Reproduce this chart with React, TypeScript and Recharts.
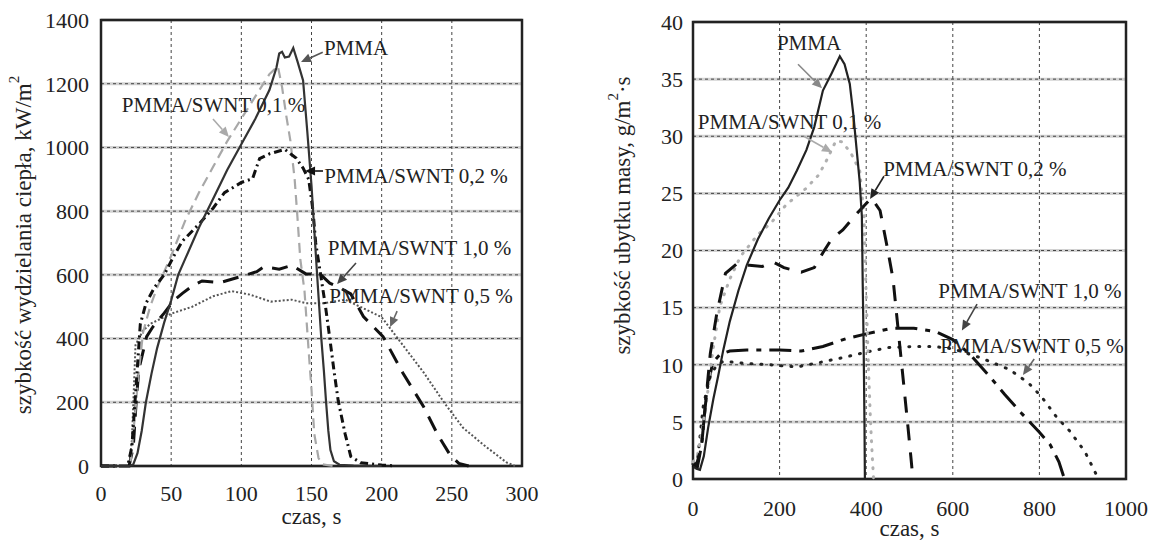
import React from "react";
import { LineChart, Line, XAxis, YAxis, CartesianGrid, ReferenceArea, ReferenceLine, ReferenceDot } from "recharts";

// heat release rate, kW/m2 vs time, s  -> [t, v]
const hrrPmma = [[0,0],[20,0],[23,5],[26,40],[29,110],[32,200],[36,290],[40,370],[45,450],[50,520],[55,600],[60,650],[70,750],[80,840],[90,930],[100,1010],[110,1090],[120,1180],[125,1250],[127,1295],[129,1300],[131,1282],[134,1285],[137,1312],[140,1270],[144,1210],[147,1050],[150,880],[152,740],[154,600],[155.5,500],[157,400],[158.8,300],[160.4,200],[162,110],[163.5,50],[166,15],[170,4],[180,1],[200,0]];
const hrrSwnt01 = [[0,0],[18,0],[21,10],[24,150],[27,300],[30,420],[35,500],[40,560],[50,660],[60,770],[70,860],[80,940],[90,1020],[100,1090],[110,1160],[120,1230],[126,1255],[129,1190],[132,1100],[135,1020],[138,900],[140,780],[142,650],[145,550],[148,360],[150,240],[152,100],[155,25],[158,5],[165,0]];
const hrrSwnt02 = [[0,0],[19,0],[22,60],[25,250],[28,445],[32,510],[38,560],[45,600],[52,660],[58,706],[70,760],[80,810],[88,858],[100,890],[108,902],[113,965],[120,980],[131,994],[135,980],[139,967],[144,935],[148,900],[151,804],[153,700],[156.6,598],[160,500],[163,402],[166,300],[169,206],[174,100],[178,30],[185,10],[200,3],[210,0]];
const hrrSwnt10 = [[0,0],[20,0],[23,60],[25,197],[27,304],[32.5,406],[37,437],[45,480],[52,520],[58,542],[65,565],[72,581],[85,576],[99,594],[111,610],[116,625],[127,618],[136,630],[146,603],[156,603],[163,574],[170,560],[178,540],[187,469],[201,406],[215,293],[230,185],[240,98],[249,33],[255,8],[262,0]];
const hrrSwnt05 = [[0,0],[20,0],[22,80],[24.6,380],[30,425],[35,446],[50,478],[65,500],[80,533],[93,549],[106,538],[121,516],[136,522],[146,511],[159,511],[174,522],[187,495],[200,467],[215,380],[230,293],[245,196],[258,120],[273,65],[289,11],[295,0]];

// mass loss rate, g/m2 s vs time, s -> [t, v]
const mlrPmma = [[0,1.1],[8,0.9],[16,0.8],[25,2],[35,4.5],[47,7],[58,9],[70,11.3],[85,13.8],[105,16.5],[124,18.7],[150,21],[175,22.8],[200,24.4],[220,25.5],[240,27],[262,28.8],[280,30.8],[300,34],[320,35.5],[339,37],[350,36.3],[362,34.6],[370,32],[378,28.8],[385,26],[390,23],[392,17],[394,12],[396,5],[397,0]];
const mlrSwnt01 = [[0,1.5],[10,2],[20,4],[32,7],[46,11.3],[62,15.1],[85,17.5],[110,19.5],[150,21.4],[180,22.4],[215,24],[260,25.4],[290,26.6],[310,28],[330,29.6],[345,29.5],[365,28.5],[385,27],[395,23],[400,16],[405,10],[410,5],[414,2],[417,0]];
const mlrSwnt02 = [[0,1],[10,1.5],[20,3],[30,7],[40,11],[55,14.5],[75,18],[100,18.8],[130,18.7],[160,18.6],[185,19],[210,18.5],[250,18.1],[280,18.5],[300,19.8],[320,21],[346,21.8],[380,23.3],[412,24.6],[432,23.5],[450,20],[462,17.5],[470,14.5],[482,10],[494,5.5],[503,2],[508,0]];
const mlrSwnt10 = [[0,1.2],[10,1],[20,3],[32,7.9],[46,10.2],[62,10.9],[85,11.2],[124,11.3],[200,11.3],[250,11.2],[300,11.6],[355,12.3],[400,12.7],[460,13.2],[510,13.2],[560,12.9],[600,12.2],[640,10.9],[680,9.2],[720,7.4],[760,5.7],[800,4.1],[825,3],[845,1.5],[858,0]];
const mlrSwnt05 = [[0,1.3],[10,1.5],[24,6.5],[40,9],[55,10],[70,10.3],[100,10.2],[124,10.1],[178,10],[240,9.8],[293,10.2],[355,10.7],[400,11.1],[450,11.5],[510,11.6],[555,11.6],[600,11.4],[665,10.6],[730,9.6],[775,8.4],[805,7.2],[840,5.4],[870,4.2],[905,2.4],[930,0.5],[935,0]];

const hrrTicksX = [0, 50, 100, 150, 200, 250, 300];
const hrrTicksY = [0, 200, 400, 600, 800, 1000, 1200, 1400];
const mlrTicksX = [0, 200, 400, 600, 800, 1000];
const mlrTicksY = [0, 5, 10, 15, 20, 25, 30, 35, 40];

// label text, label centre, arrow from -> to (data units)
const hrrNotes = [
  { text: "PMMA", at: [181.7, 1315], from: [158, 1299], to: [142.5, 1268], color: "#555" },
  { text: "PMMA/SWNT 0,1 %", at: [80.2, 1136], from: [79.8, 1089], to: [91.2, 1033], color: "#aaa" },
  { text: "PMMA/SWNT 0,2 %", at: [224.5, 913], from: [158.2, 926], to: [145.4, 926], color: "#111" },
  { text: "PMMA/SWNT 1,0 %", at: [227, 687], from: [181.7, 637], to: [168.2, 571], color: "#444" },
  { text: "PMMA/SWNT 0,5 %", at: [228, 534], from: [211, 486], to: [206, 436], color: "#666" },
];
const mlrNotes = [
  { text: "PMMA", at: [268, 38.2], from: [242.5, 36.3], to: [298, 34.2], color: "#888" },
  { text: "PMMA/SWNT 0,1 %", at: [223, 31.3], from: [256, 30], to: [321, 28.6], color: "#aaa" },
  { text: "PMMA/SWNT 0,2 %", at: [651, 27.2], from: [441, 26.5], to: [409, 24.5], color: "#222" },
  { text: "PMMA/SWNT 1,0 %", at: [778, 16.5], from: [656, 15.3], to: [621, 13], color: "#444" },
  { text: "PMMA/SWNT 0,5 %", at: [783, 11.7], from: [788, 10.5], to: [762, 9.1], color: "#666" },
];

const SERIF = "'Liberation Serif', 'Times New Roman', serif";

const pts = (a: number[][]) => a.map(([t, v]) => ({ t, v }));

const Arrow = (p: any) => {
  const { x1, y1, x2, y2, stroke } = p;
  if (x1 == null || isNaN(x1)) return null;
  const a = Math.atan2(y2 - y1, x2 - x1);
  const L = 10, W = 4.5;
  const bx = x2 - L * Math.cos(a), by = y2 - L * Math.sin(a);
  const tri = `${x2},${y2} ${bx - W * Math.sin(a)},${by + W * Math.cos(a)} ${bx + W * Math.sin(a)},${by - W * Math.cos(a)}`;
  return (
    <g>
      <line x1={x1} y1={y1} x2={bx} y2={by} stroke={stroke} strokeWidth={1.6} />
      <polygon points={tri} fill={stroke} />
    </g>
  );
};

const yTitle = (main: string, tail: string, dx: number, dy: number) => (props: any) => {
  const vb = props.viewBox;
  const cx = vb.x + dx;
  const cy = vb.y + vb.height / 2 + dy;
  return (
    <text x={cx} y={cy} transform={`rotate(-90 ${cx} ${cy})`} textAnchor="middle" dominantBaseline="central" fontSize={23} fill="#222" fontFamily={SERIF}>
      {main}
      <tspan dy={-9} fontSize={15}>2</tspan>
      <tspan dy={9}>{tail}</tspan>
    </text>
  );
};

const tickStyle = { fontSize: 22, fill: "#222", fontFamily: SERIF };
const noteLabel = (text: string) => ({ value: text, position: "center" as const, fontSize: 21, fill: "#222", fontFamily: SERIF });
const xTitle = (offset: number) => ({ value: "czas, s", position: "insideBottom" as const, offset, fontSize: 23, fill: "#222", fontFamily: SERIF });

function Notes(notes: typeof hrrNotes) {
  return notes.flatMap((n, i) => [
    <ReferenceLine key={"a" + i} segment={[{ x: n.from[0], y: n.from[1] }, { x: n.to[0], y: n.to[1] }]} stroke={n.color} shape={Arrow} />,
    <ReferenceDot key={"d" + i} x={n.at[0]} y={n.at[1]} r={0} stroke="none" fill="none" label={noteLabel(n.text)} />,
  ]);
}

function HeatChart() {
  return (
    <LineChart width={560} height={542} margin={{ top: 20, right: 38, bottom: 0, left: 0 }} style={{ fontFamily: SERIF }}>
      <CartesianGrid vertical={false} stroke="#d2d2d2" strokeWidth={3} />
      <CartesianGrid stroke="#444" strokeDasharray="3 3" />
      <XAxis type="number" dataKey="t" domain={[0, 300]} ticks={hrrTicksX} height={76} tickLine={false} axisLine={false} tickMargin={13} tick={tickStyle}
        label={xTitle(18)} />
      <YAxis type="number" domain={[0, 1400]} ticks={hrrTicksY} width={101} tickLine={false} axisLine={false} tickMargin={6} tick={tickStyle}
        label={{ content: yTitle("szybkość wydzielania ciepła, kW/m", "", 23, 2) }} />
      <Line data={pts(hrrSwnt05)} dataKey="v" stroke="#555" strokeWidth={2} strokeDasharray="2 2" dot={false} isAnimationActive={false} />
      <Line data={pts(hrrSwnt10)} dataKey="v" stroke="#111" strokeWidth={3} strokeDasharray="16 10" dot={false} isAnimationActive={false} />
      <Line data={pts(hrrSwnt01)} dataKey="v" stroke="#a8a8a8" strokeWidth={2.2} strokeDasharray="10 6" dot={false} isAnimationActive={false} />
      <Line data={pts(hrrSwnt02)} dataKey="v" stroke="#111" strokeWidth={3} strokeDasharray="8 4 2 4" dot={false} isAnimationActive={false} />
      <Line data={pts(hrrPmma)} dataKey="v" stroke="#333" strokeWidth={2.2} dot={false} isAnimationActive={false} />
      <ReferenceArea x1={0} x2={300} y1={0} y2={1400} fill="none" stroke="#222" strokeWidth={2.5} />
      {Notes(hrrNotes)}
    </LineChart>
  );
}

function MassChart() {
  return (
    <LineChart width={590} height={542} margin={{ top: 22, right: 24, bottom: 0, left: 0 }} style={{ fontFamily: SERIF }}>
      <CartesianGrid vertical={false} stroke="#d2d2d2" strokeWidth={3} />
      <CartesianGrid stroke="#444" strokeDasharray="3 3" />
      <XAxis type="number" dataKey="t" domain={[0, 1000]} ticks={mlrTicksX} height={63} tickLine={false} axisLine={false} tickMargin={15} tick={tickStyle}
        label={xTitle(6)} />
      <YAxis type="number" domain={[0, 40]} ticks={mlrTicksY} width={133} tickLine={false} axisLine={false} tickMargin={4} tick={tickStyle}
        label={{ content: yTitle("szybkość ubytku masy, g/m", "·s", 62, -35) }} />
      <Line data={pts(mlrSwnt05)} dataKey="v" stroke="#222" strokeWidth={3} strokeDasharray="1 9" strokeLinecap="round" dot={false} isAnimationActive={false} />
      <Line data={pts(mlrSwnt10)} dataKey="v" stroke="#111" strokeWidth={3} strokeDasharray="22 8 5 8" dot={false} isAnimationActive={false} />
      <Line data={pts(mlrSwnt01)} dataKey="v" stroke="#b0b0b0" strokeWidth={3} strokeDasharray="1 8" strokeLinecap="round" dot={false} isAnimationActive={false} />
      <Line data={pts(mlrSwnt02)} dataKey="v" stroke="#111" strokeWidth={3} strokeDasharray="16 12" dot={false} isAnimationActive={false} />
      <Line data={pts(mlrPmma)} dataKey="v" stroke="#222" strokeWidth={2.2} dot={false} isAnimationActive={false} />
      <ReferenceArea x1={0} x2={1000} y1={0} y2={40} fill="none" stroke="#222" strokeWidth={2.5} />
      {Notes(mlrNotes)}
    </LineChart>
  );
}

export default function App() {
  return (
    <div style={{ position: "absolute", left: 0, top: 0, width: 1150, height: 542, background: "#fff", fontFamily: SERIF }}>
      <div style={{ position: "absolute", left: 0, top: 0 }}>
        <HeatChart />
      </div>
      <div style={{ position: "absolute", left: 560, top: 0 }}>
        <MassChart />
      </div>
    </div>
  );
}
